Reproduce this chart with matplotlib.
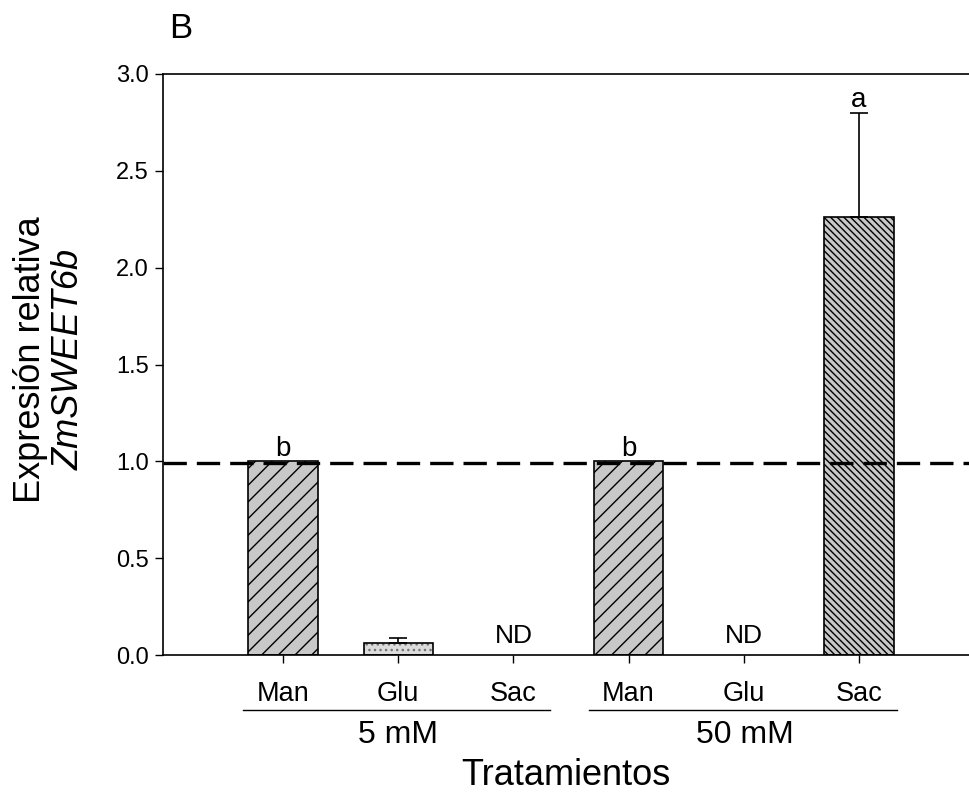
import matplotlib
matplotlib.use("Agg")
import matplotlib.pyplot as plt
import matplotlib.transforms as mtransforms

plt.rcParams['font.family'] = ['Liberation Sans', 'DejaVu Sans']
plt.rcParams['hatch.linewidth'] = 1.0

# Data
treatments = ["Man", "Glu", "Sac", "Man", "Glu", "Sac"]
groups = ["5 mM", "50 mM"]
values = [1.0, 0.06, 0.0, 1.0, 0.0, 2.26]
errors_up = [0.0, 0.027, 0.0, 0.0, 0.0, 0.54]
letters = ["b", "", "", "b", "", "a"]
nd_flags = [False, False, True, False, True, False]
reference_level = 0.99
yticks = [0.0, 0.5, 1.0, 1.5, 2.0, 2.5, 3.0]

hatches = ["//", "...", "", "//", "", "\\\\\\\\\\"]
fills = ["#c8c8c8", "#dcdcdc", "#c8c8c8", "#c8c8c8", "#c8c8c8", "#c8c8c8"]

fig = plt.figure(figsize=(9.69, 7.94), dpi=100)
ax = fig.add_axes([163/969, 1-655/794, 1-163/969, (655-74)/794])

x = list(range(len(treatments)))
for i in x:
    if nd_flags[i]:
        continue
    b = ax.bar(i, values[i], width=0.6, color=fills[i], edgecolor="black",
               linewidth=1.2, hatch=hatches[i], zorder=2)
    if i == 1:
        b[0]._hatch_color = (0.45, 0.45, 0.45, 1.0)
    if errors_up[i] > 0:
        ax.errorbar(i, values[i], yerr=[[0], [errors_up[i]]], fmt="none",
                    ecolor="black", elinewidth=1.2, capsize=6.5, capthick=1.2, zorder=3)
    if letters[i]:
        ax.text(i, values[i] + errors_up[i] + 0.03, letters[i], ha="center",
                va="baseline", fontsize=20)
for i in x:
    if nd_flags[i]:
        ax.text(i, 0.06, "ND", ha="center", va="baseline", fontsize=19)

ax.axhline(reference_level, color="black", linewidth=2.4, dashes=(7, 3), zorder=4)

ax.set_xlim(-1.042, 5.955)
ax.set_ylim(0, 3.0)
ax.set_yticks(yticks)
ax.set_yticklabels([f"{v:.1f}" for v in yticks], fontsize=17)
ax.set_xticks(x)
ax.set_xticklabels(treatments, fontsize=19.5)
ax.tick_params(axis="both", direction="out", length=6, width=1.0, color="black")
ax.tick_params(axis="x", pad=13)
ax.tick_params(axis="y", pad=4)
ax.spines["right"].set_visible(False)
for s in ["left", "bottom", "top"]:
    ax.spines[s].set_linewidth(1.2)

trans = mtransforms.blended_transform_factory(ax.transData, ax.transAxes)
group_spans = [(-0.35, 2.32), (2.66, 5.33)]
for (x0, x1), g in zip(group_spans, groups):
    ax.plot([x0, x1], [-0.0947, -0.0947], transform=trans, color="black",
            linewidth=1.0, clip_on=False)
    ax.text((x0 + x1) / 2 + 0.01, -0.1515, g, transform=trans, ha="center",
            va="baseline", fontsize=23)

ax.text(0.5, -0.2238, "Tratamientos", transform=ax.transAxes, ha="center",
        va="baseline", fontsize=26)

fig.text(31/969, 1-360/794, "Expresión relativa", rotation=90, ha="center",
         va="center", fontsize=26)
fig.text(69/969, 1-359/794, "ZmSWEET6b", rotation=90, ha="center",
         va="center", fontsize=26, style="italic")
fig.text(169/969, 1-38/794, "B", ha="left", va="baseline", fontsize=25)

fig.savefig("out.png", dpi=100)
